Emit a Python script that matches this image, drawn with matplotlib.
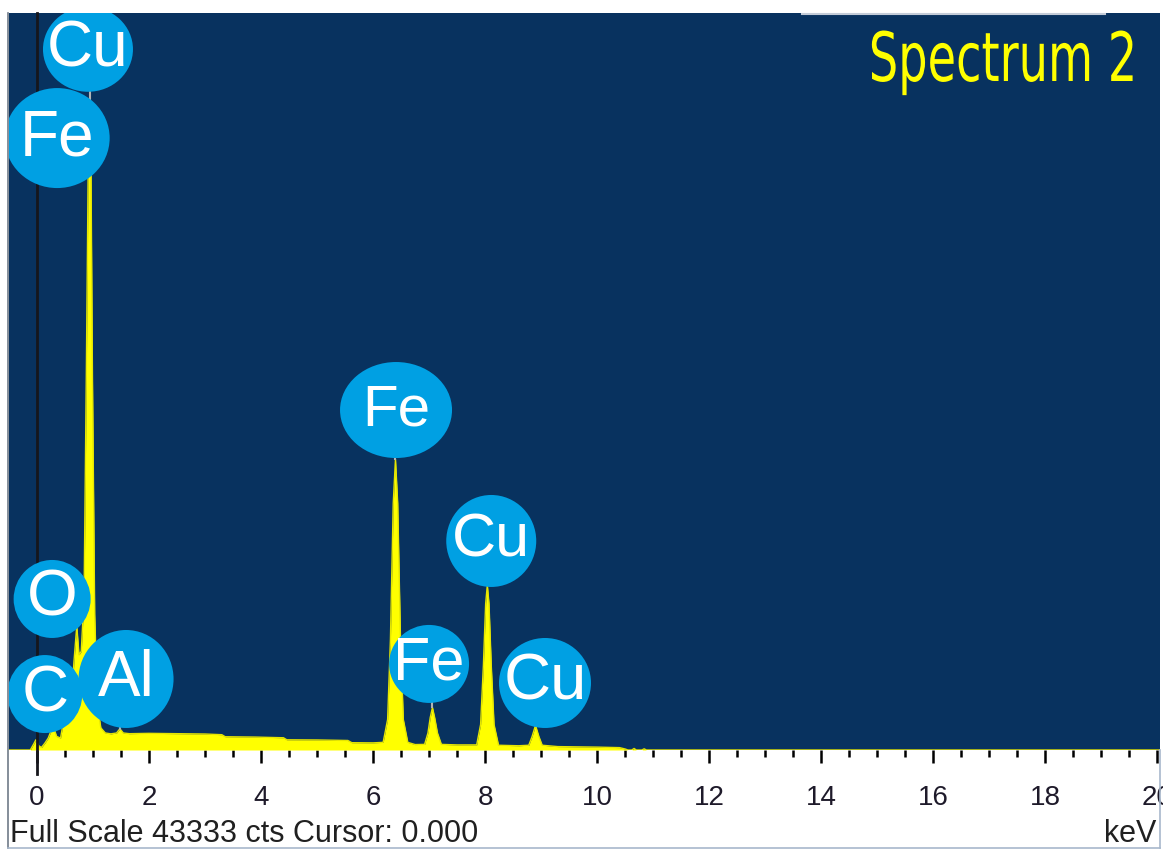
import numpy as np
import matplotlib
matplotlib.use('Agg')
import matplotlib.pyplot as plt
import matplotlib.patheffects as pe
from matplotlib.patches import Ellipse
from matplotlib.lines import Line2D
from matplotlib.transforms import Affine2D

# EDS spectrum traced point by point (energy in keV, counts)
kev = [-0.50, -0.12, -0.06, -0.02, 0.03, 0.08, 0.14, 0.20, 0.26, 0.30, 0.35, 0.42,
       0.48, 0.52, 0.56, 0.61, 0.66, 0.71, 0.75, 0.79, 0.84, 0.88, 0.92, 0.94,
       0.96, 0.99, 1.03, 1.08, 1.14, 1.22, 1.32, 1.42, 1.48, 1.54, 1.65, 2.00,
       2.50, 3.00, 3.30, 3.36, 3.90, 4.40, 4.46, 5.00, 5.55, 5.62, 6.00, 6.18,
       6.26, 6.31, 6.36, 6.40, 6.44, 6.49, 6.54, 6.62, 6.75, 6.92, 6.98, 7.02,
       7.06, 7.10, 7.15, 7.22, 7.50, 7.85, 7.92, 7.97, 8.01, 8.04, 8.07, 8.11,
       8.16, 8.24, 8.60, 8.78, 8.84, 8.90, 8.96, 9.02, 9.30, 10.00, 10.40, 10.50,
       10.55, 10.62, 10.66, 10.70, 10.80, 10.84, 10.88, 20.05]
cts = [0, 0, 350, 600, 250, 150, 400, 700, 1200, 1300, 800, 700,
       1800, 2800, 2200, 2600, 5200, 7300, 5600, 5800, 9000, 22000, 36500, 38200,
       36000, 22000, 8000, 2600, 1300, 1000, 950, 1000, 1250, 1000, 960, 980,
       960, 940, 900, 780, 760, 720, 600, 590, 560, 430, 420, 450,
       1800, 6500, 14500, 17100, 14500, 6500, 1800, 450, 320, 330, 1000, 1900,
       2500, 1900, 1000, 330, 300, 300, 1500, 5000, 8600, 9700, 8600, 5000,
       1500, 280, 250, 280, 800, 1450, 800, 280, 200, 170, 140, 60,
       0, 0, 90, 0, 0, 70, 0, 0]

full_scale = 43333
tick_kev = [0, 2, 4, 6, 8, 10, 12, 14, 16, 18, 20]

# element line labels and the line energy each one marks
el_names = ['Cu', 'Fe', 'O', 'C', 'Al', 'Fe', 'Cu', 'Fe', 'Cu']
el_kev = [0.94, 0.71, 0.52, 0.28, 1.49, 6.40, 8.04, 7.06, 8.90]

# label bubbles: centre (keV, counts), size in pixels, text size
bub_x = [0.91, 0.36, 0.27, 0.14, 1.59, 6.41, 8.11, 7.00, 9.07]
bub_y = [41200, 35980, 8880, 3290, 4175, 19990, 12290, 5060, 3940]
bub_w = [90, 105, 77, 75, 95, 112, 90, 80, 92]
bub_h = [85, 100, 78, 78, 98, 96, 92, 78, 90]
bub_fs = [46, 46, 47, 47, 46, 42, 44, 44, 47]
show_marker = [True, False, False, False, True, True, True, True, True]


class Squeeze(pe.AbstractPathEffect):
    """Narrow the glyphs horizontally about a fixed x (axes fraction)."""
    def __init__(self, ax, xfrac, sx):
        super().__init__()
        self.ax, self.xfrac, self.sx = ax, xfrac, sx

    def draw_path(self, renderer, gc, tpath, affine, rgbFace=None):
        xa = self.ax.transAxes.transform((self.xfrac, 0))[0]
        t = affine + Affine2D().translate(-xa, 0).scale(self.sx, 1).translate(xa, 0)
        renderer.draw_path(gc, tpath, t, rgbFace)


W, H = 1163, 851
fig = plt.figure(figsize=(W / 100, H / 100), dpi=100)
fig.patch.set_facecolor('white')

x0, x1 = -0.5, 20.05
ax = fig.add_axes([9 / W, 1 - 750 / H, 1151 / W, 737 / H])
ax.set_facecolor('#08325f')
ax.set_xlim(x0, x1)
ax.set_ylim(0, full_scale)
px_kev = 1151 / (x1 - x0)
px_cts = 737 / full_scale

ax.fill_between(kev, cts, 0, color='#ffff00', lw=0, zorder=2)
ax.plot(kev, cts, color='#e6e600', lw=1, zorder=2)

# cursor at 0 keV, runs down into the scale strip
ax.plot([0, 0], [-1400, full_scale], color='#16161c', lw=2, clip_on=False, zorder=3)

# marker lines from peak tops up to their labels
for e, by, show in zip(el_kev, bub_y, show_marker):
    if show:
        top = np.interp(e, kev, cts)
        ax.plot([e, e], [top, by], color='#b4b4b4', lw=1.5, zorder=3)

for name, bx, by, bw, bh, fs in zip(el_names, bub_x, bub_y, bub_w, bub_h, bub_fs):
    ax.add_patch(Ellipse((bx, by), bw / px_kev, bh / px_cts,
                         facecolor='#00a0e3', edgecolor='none', zorder=5))
    ax.text(bx, by, name, color='white', fontsize=fs, ha='center', va='center',
            family=['Liberation Sans', 'DejaVu Sans'], zorder=6)

tx = 1137 / 1151 - 9 / 1151
ax.text(tx, (750 - 81) / 737, 'Spectrum 2', transform=ax.transAxes, color='#ffff00',
        fontsize=49, ha='right', va='baseline', family='DejaVu Sans',
        path_effects=[Squeeze(ax, tx, 0.68)])

ax.set_yticks([])
ax.set_xticks(tick_kev)
ax.set_xticklabels([str(t) for t in tick_kev], fontsize=20, color='#1e1a2a',
                   family=['Liberation Sans', 'DejaVu Sans'])
ax.set_xticks(np.arange(0, 20.01, 0.5), minor=True)
ax.tick_params(axis='x', which='major', direction='out', length=9, width=1.8,
               color='black', pad=16)
ax.tick_params(axis='x', which='minor', direction='out', length=5, width=1.8,
               color='black')
for s in ax.spines.values():
    s.set_visible(False)

fig.text(10 / W, 1 - 842 / H, 'Full Scale 43333 cts Cursor: 0.000', fontsize=22,
         color='#202020', ha='left', va='baseline', family=['Liberation Sans', 'DejaVu Sans'])
fig.text(1156 / W, 1 - 842 / H, 'keV', fontsize=22, color='#202020', ha='right',
         va='baseline', family=['Liberation Sans', 'DejaVu Sans'])

# frame lines around the panel
edge = '#a8b8cc'
fig.add_artist(Line2D([8 / W, 8 / W], [1 - 848 / H, 1 - 13 / H], color='#707a88', lw=1.2))
fig.add_artist(Line2D([1160 / W, 1160 / W], [1 - 848 / H, 1 - 750 / H], color=edge, lw=1.2))
fig.add_artist(Line2D([8 / W, 1160 / W], [1 - 848 / H, 1 - 848 / H], color=edge, lw=1.2))
fig.add_artist(Line2D([802 / W, 1105 / W], [1 - 14 / H, 1 - 14 / H], color='#c4ccd8', lw=1.5))

fig.savefig('out.png', dpi=100, facecolor='white')
